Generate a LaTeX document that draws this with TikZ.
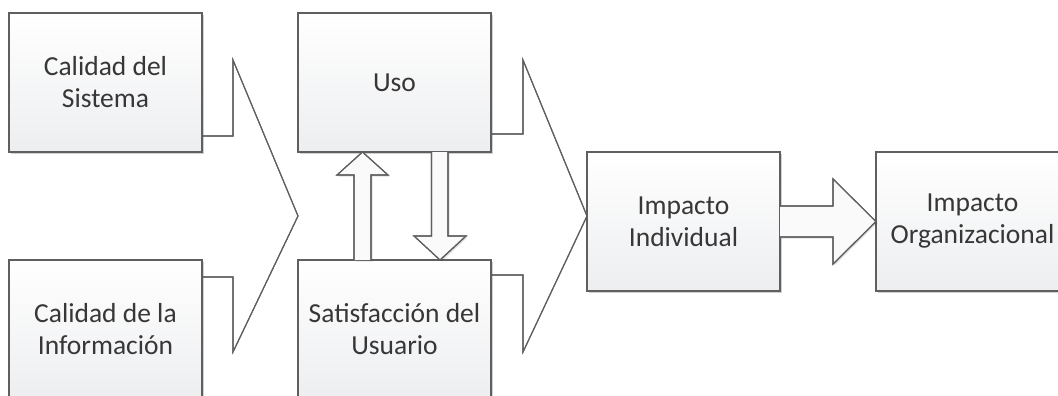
\documentclass[tikz,border=0pt]{standalone}
\usepackage{fontspec}
\setmainfont{Carlito}
\usetikzlibrary{shadows}
\definecolor{edge}{RGB}{95,95,95}
\definecolor{txt}{RGB}{55,55,55}
\definecolor{botfill}{RGB}{237,238,240}
\definecolor{arrowfill}{RGB}{250,250,250}
\tikzset{
  box/.style={draw=edge, line width=1.3pt, top color=white, bottom color=botfill,
    minimum width=193pt, minimum height=139pt, inner sep=0pt, outer sep=0pt,
    align=center, text=txt,
    font=\fontsize{27.5pt}{32pt}\selectfont,
    drop shadow={opacity=0.18, shadow xshift=2pt, shadow yshift=-2pt, fill=black}},
  merge/.style={draw=edge, line width=1.1pt, fill=white, line join=miter},
  outline/.style={draw=edge, line width=1.1pt, line join=miter},
  fatarrow/.style={draw=edge, line width=1.1pt, fill=arrowfill, line join=miter,
    drop shadow={opacity=0.12, shadow xshift=1.5pt, shadow yshift=-1.5pt, fill=black}}
}
\begin{document}
\begin{tikzpicture}[x=1pt,y=-1pt]
\useasboundingbox (0,0) rectangle (1058,396);
\clip (0,0) rectangle (1058,396);
\fill[white] (0,0) rectangle (1058,396);
% boxes (positions)
\coordinate (csC) at (105.5,82.5);
\coordinate (ciC) at (105.5,329.5);
\coordinate (usoC) at (394.5,82.5);
\coordinate (satC) at (394.5,329.5);
\coordinate (iiC) at (683.5,221.5);
\coordinate (ioC) at (972.5,221.5);
% merge shapes (drawn first, behind boxes)
\path[merge] (202,136) -- (233,136) -- (233,60) -- (298,216) -- (233,352) -- (233,277) -- (202,277);
\path[merge] (491,134) -- (523,134) -- (523,60) -- (587,216) -- (523,352) -- (523,275) -- (491,275);
% boxes
\node[box] (cs) at (csC) {Calidad del\\Sistema};
\node[box] (ci) at (ciC) {Calidad de la\\Información};
\node[box] (uso) at (usoC) {Uso};
\node[box] (sat) at (satC) {Satisfacción del\\Usuario};
\node[box] (ii) at (iiC) {Impacto\\Individual};
\node[box] (io) at (ioC) {Impacto\\Organizacional};
% merge strokes meeting box edges
\draw[outline] (cs.east |- 0,136) -- (233,136) -- (233,60) -- (298,216) -- (233,352) -- (233,277) -- (ci.east |- 0,277);
\draw[outline] (uso.east |- 0,134) -- (523,134) -- (523,60) -- (587,216) -- (523,352) -- (523,275) -- (sat.east |- 0,275);
% up arrow: sat -> uso
\path[fatarrow] (354,0 |- sat.north) -- (354,175) -- (337,175) -- (362.5,0 |- uso.south) -- (388,175) -- (371,175) -- (371,0 |- sat.north);
\draw[outline] (354,0 |- sat.north) -- (354,175) -- (337,175) -- (362.5,0 |- uso.south) -- (388,175) -- (371,175) -- (371,0 |- sat.north);
% down arrow: uso -> sat
\path[fatarrow] (431.5,0 |- uso.south) -- (431.5,236) -- (414,236) -- (440,0 |- sat.north) -- (466,236) -- (448,236) -- (448,0 |- uso.south);
\draw[outline] (431.5,0 |- uso.south) -- (431.5,236) -- (414,236) -- (440,0 |- sat.north) -- (466,236) -- (448,236) -- (448,0 |- uso.south);
% big arrow: ii -> io
\path[fatarrow] (ii.east |- 0,206) -- (833,206) -- (833,179) -- (io.west) -- (833,264) -- (833,237) -- (ii.east |- 0,237);
\draw[outline] (ii.east |- 0,206) -- (833,206) -- (833,179) -- (io.west) -- (833,264) -- (833,237) -- (ii.east |- 0,237);
\end{tikzpicture}
\end{document}
